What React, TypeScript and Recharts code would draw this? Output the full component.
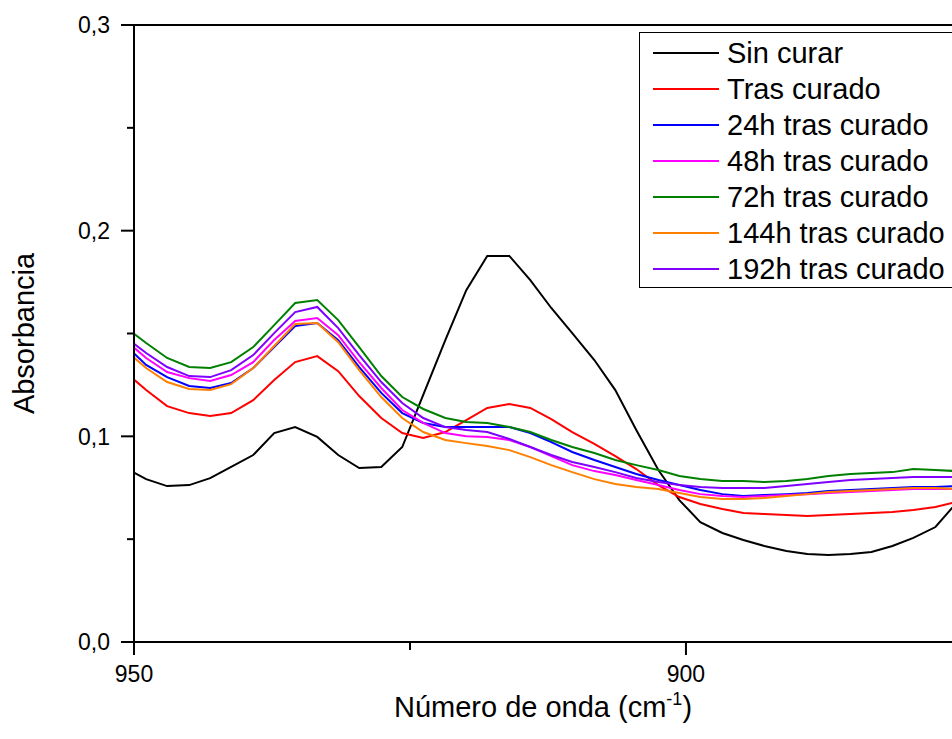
import React from 'react';
import { LineChart, Line, XAxis, YAxis, Legend, ReferenceLine, Label } from 'recharts';

// wavenumber axis (cm-1), ~1.93 cm-1 spacing
const wavenumbers = [
    950.8, 948.9, 947.0, 945.0, 943.1, 941.2, 939.2, 937.3, 935.4, 933.4,
    931.5, 929.6, 927.6, 925.7, 923.8, 921.8, 919.9, 918.0, 916.0, 914.1,
    912.2, 910.3, 908.3, 906.4, 904.5, 902.5, 900.6, 898.7, 896.7, 894.8,
    892.9, 890.9, 889.0, 887.1, 885.1, 883.2, 881.3, 879.4, 877.4, 875.5,
];

const sinCurar = [
    0.0846, 0.0792, 0.0758, 0.0763, 0.0797, 0.0851, 0.0909, 0.1016, 0.1045, 0.0997,
    0.0909, 0.0846, 0.0851, 0.0948, 0.1201, 0.1468, 0.1711, 0.1877, 0.1877, 0.1760,
    0.1624, 0.1502, 0.1371, 0.1225, 0.1031, 0.0836, 0.0690, 0.0583, 0.0530, 0.0496,
    0.0467, 0.0442, 0.0428, 0.0423, 0.0428, 0.0438, 0.0467, 0.0506, 0.0559, 0.0676,
];

const trasCurado = [
    0.1313, 0.1225, 0.1147, 0.1113, 0.1099, 0.1113, 0.1176, 0.1274, 0.1361, 0.1390,
    0.1317, 0.1196, 0.1089, 0.1016, 0.0992, 0.1021, 0.1079, 0.1138, 0.1157, 0.1138,
    0.1084, 0.1021, 0.0963, 0.0904, 0.0841, 0.0763, 0.0705, 0.0671, 0.0647, 0.0627,
    0.0622, 0.0617, 0.0613, 0.0617, 0.0622, 0.0627, 0.0632, 0.0642, 0.0656, 0.0681,
];

const h24 = [
    0.1444, 0.1347, 0.1288, 0.1245, 0.1235, 0.1259, 0.1332, 0.1434, 0.1536, 0.1551,
    0.1468, 0.1337, 0.1211, 0.1113, 0.1065, 0.1045, 0.1045, 0.1045, 0.1045, 0.1016,
    0.0972, 0.0924, 0.0885, 0.0851, 0.0817, 0.0788, 0.0763, 0.0739, 0.0719, 0.0710,
    0.0715, 0.0719, 0.0724, 0.0734, 0.0739, 0.0744, 0.0749, 0.0754, 0.0754, 0.0758,
];

const h48 = [
    0.1468, 0.1381, 0.1313, 0.1283, 0.1269, 0.1298, 0.1361, 0.1468, 0.1561, 0.1575,
    0.1492, 0.1361, 0.1235, 0.1128, 0.1065, 0.1016, 0.1001, 0.0997, 0.0982, 0.0948,
    0.0904, 0.0860, 0.0831, 0.0812, 0.0788, 0.0763, 0.0739, 0.0719, 0.0710, 0.0705,
    0.0710, 0.0715, 0.0719, 0.0724, 0.0729, 0.0734, 0.0739, 0.0744, 0.0744, 0.0744,
];

const h72 = [
    0.1531, 0.1454, 0.1381, 0.1337, 0.1332, 0.1361, 0.1434, 0.1541, 0.1648, 0.1663,
    0.1565, 0.1434, 0.1293, 0.1191, 0.1133, 0.1089, 0.1070, 0.1065, 0.1045, 0.1021,
    0.0982, 0.0948, 0.0919, 0.0885, 0.0860, 0.0836, 0.0807, 0.0792, 0.0783, 0.0783,
    0.0778, 0.0783, 0.0792, 0.0807, 0.0817, 0.0822, 0.0826, 0.0841, 0.0836, 0.0831,
];

const h144 = [
    0.1420, 0.1332, 0.1264, 0.1230, 0.1225, 0.1254, 0.1332, 0.1439, 0.1546, 0.1551,
    0.1458, 0.1322, 0.1191, 0.1089, 0.1021, 0.0982, 0.0967, 0.0953, 0.0933, 0.0899,
    0.0860, 0.0826, 0.0792, 0.0768, 0.0754, 0.0744, 0.0724, 0.0705, 0.0695, 0.0695,
    0.0700, 0.0710, 0.0719, 0.0729, 0.0734, 0.0739, 0.0744, 0.0749, 0.0749, 0.0744,
];

const h192 = [
    0.1483, 0.1405, 0.1337, 0.1293, 0.1288, 0.1322, 0.1395, 0.1502, 0.1604, 0.1629,
    0.1526, 0.1395, 0.1264, 0.1162, 0.1089, 0.1045, 0.1031, 0.1021, 0.0987, 0.0948,
    0.0909, 0.0875, 0.0851, 0.0826, 0.0797, 0.0778, 0.0763, 0.0754, 0.0749, 0.0749,
    0.0749, 0.0758, 0.0768, 0.0778, 0.0788, 0.0792, 0.0797, 0.0802, 0.0802, 0.0802,
];

const yTicks = [0, 0.05, 0.1, 0.15, 0.2, 0.25, 0.3];
const xTicks = [950, 925, 900];

const series = [
    { key: 'sinCurar', name: 'Sin curar', color: '#000000', values: sinCurar },
    { key: 'trasCurado', name: 'Tras curado', color: '#ff0000', values: trasCurado },
    { key: 'h24', name: '24h tras curado', color: '#0000ff', values: h24 },
    { key: 'h48', name: '48h tras curado', color: '#ff00ff', values: h48 },
    { key: 'h72', name: '72h tras curado', color: '#008000', values: h72 },
    { key: 'h144', name: '144h tras curado', color: '#ff8000', values: h144 },
    { key: 'h192', name: '192h tras curado', color: '#8000ff', values: h192 },
];

const data = wavenumbers.map((x, i) => {
    const row: Record<string, number> = { x };
    series.forEach((s) => {
        row[s.key] = s.values[i];
    });
    return row;
});

const FONT = 'Arial, "Liberation Sans", sans-serif';

function YTick({ x, y, payload }: any) {
    const major = Math.round(payload.value * 100) % 10 === 0;
    return (
        <g>
            <line x1={x - (major ? 13 : 7)} x2={x} y1={y} y2={y} stroke="#000" strokeWidth={2} />
            {major && (
                <text x={x - 24} y={y} dy="0.36em" textAnchor="end" fontSize={23} fontFamily={FONT} fill="#000">
                    {payload.value.toFixed(1).replace('.', ',')}
                </text>
            )}
        </g>
    );
}

function XTick({ x, y, payload }: any) {
    const major = payload.value % 50 === 0;
    return (
        <g>
            <line x1={x} x2={x} y1={y} y2={y + (major ? 13 : 8)} stroke="#000" strokeWidth={2} />
            {major && (
                <text x={x} y={y + 40} textAnchor="middle" fontSize={23} fontFamily={FONT} fill="#000">
                    {payload.value}
                </text>
            )}
        </g>
    );
}

function XTitle({ viewBox }: any) {
    const cx = viewBox.x + viewBox.width / 2;
    return (
        <text x={cx} y={viewBox.y + 75} textAnchor="middle" fontSize={29} fontFamily={FONT} fill="#000">
            Número de onda (cm
            <tspan fontSize={18} dy={-12}>-1</tspan>
            <tspan dy={12}>)</tspan>
        </text>
    );
}

function YTitle({ viewBox }: any) {
    const cx = viewBox.x + 24;
    const cy = viewBox.y + viewBox.height / 2;
    return (
        <text
            x={cx}
            y={cy}
            transform={`rotate(-90, ${cx}, ${cy})`}
            dy="0.36em"
            textAnchor="middle"
            fontSize={29}
            fontFamily={FONT}
            fill="#000"
        >
            Absorbancia
        </text>
    );
}

// legend keeps the series order instead of the payload's sorted order
function LegendBox() {
    return (
        <div
            style={{
                border: '1.5px solid #000',
                background: '#fff',
                padding: '2px 12px 0 13px',
                fontFamily: FONT,
                fontSize: 29,
                color: '#000',
            }}
        >
            {series.map((s) => (
                <div key={s.key} style={{ display: 'flex', alignItems: 'center', height: 36, whiteSpace: 'nowrap' }}>
                    <span style={{ display: 'inline-block', width: 66, height: 2, background: s.color, marginRight: 8 }} />
                    {s.name}
                </div>
            ))}
        </div>
    );
}

export default function App() {
    return (
        <div style={{ position: 'absolute', left: 0, top: 0, width: 952, height: 739, overflow: 'hidden', background: '#fff' }}>
            <LineChart width={952} height={739} data={data} margin={{ top: 25, right: 0, left: 0, bottom: 0 }}>
                <XAxis
                    dataKey="x"
                    type="number"
                    domain={[875.9, 950]}
                    reversed
                    allowDataOverflow
                    ticks={xTicks}
                    interval={0}
                    height={97}
                    tickSize={0}
                    tickMargin={0}
                    tickLine={false}
                    axisLine={{ stroke: '#000', strokeWidth: 2 }}
                    tick={<XTick />}
                >
                    <Label content={<XTitle />} />
                </XAxis>
                <YAxis
                    type="number"
                    domain={[0, 0.3]}
                    allowDataOverflow
                    ticks={yTicks}
                    interval={0}
                    width={134}
                    tickSize={0}
                    tickMargin={0}
                    tickLine={false}
                    axisLine={{ stroke: '#000', strokeWidth: 2 }}
                    tick={<YTick />}
                >
                    <Label content={<YTitle />} />
                </YAxis>
                <ReferenceLine y={0.3} stroke="#000" strokeWidth={2} />
                {series.map((s) => (
                    <Line
                        key={s.key}
                        dataKey={s.key}
                        name={s.name}
                        stroke={s.color}
                        strokeWidth={2}
                        dot={false}
                        type="linear"
                        isAnimationActive={false}
                    />
                ))}
                <Legend
                    layout="vertical"
                    align="center"
                    verticalAlign="middle"
                    content={<LegendBox />}
                    wrapperStyle={{ left: 639, top: 32, width: 'auto', height: 'auto' }}
                />
            </LineChart>
        </div>
    );
}
